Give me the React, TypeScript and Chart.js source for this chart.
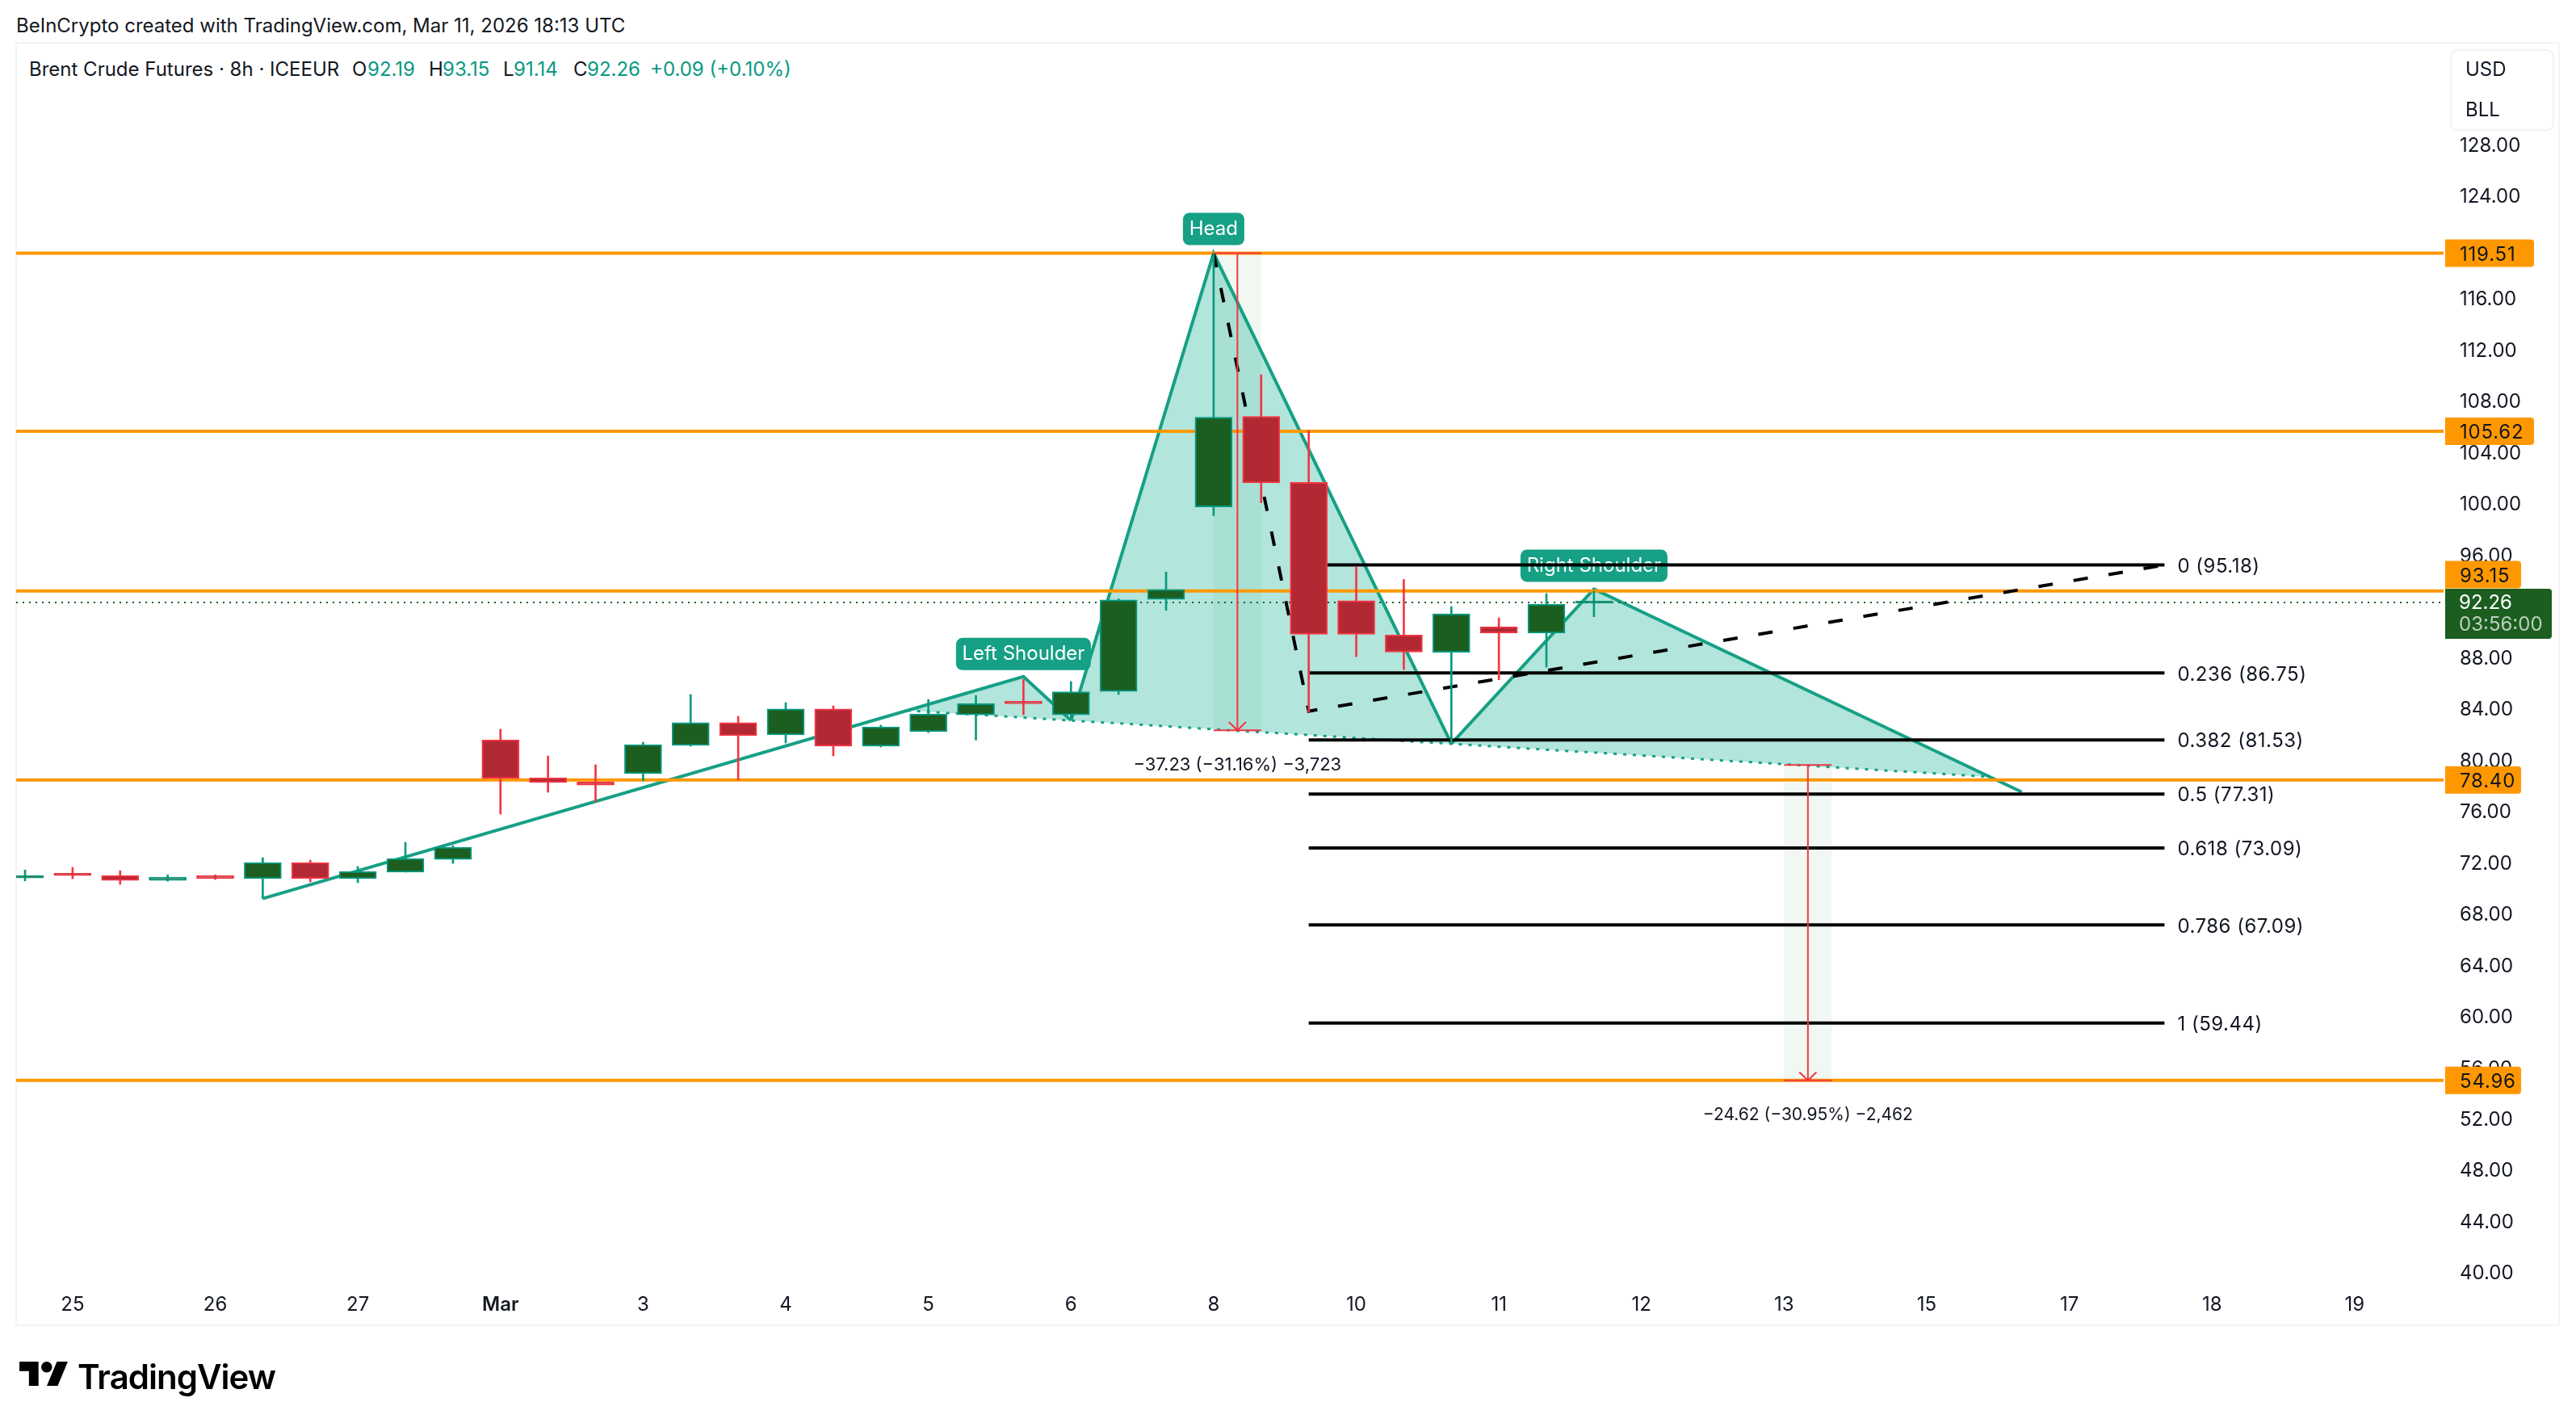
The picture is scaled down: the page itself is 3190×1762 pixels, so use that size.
import { Chart, registerables } from 'chart.js';
import { useEffect, useRef } from 'react';

Chart.register(...registerables);

const FONT = 'Inter, sans-serif';
const INK = '#131722';
const UP = '#089981';
const UP_BODY = '#1B5E20';
const DOWN = '#F23645';
const DOWN_BODY = '#B22833';
const TEAL = '#16A085';
const TEAL_FILL = 'rgba(20,175,150,0.33)';
const ORANGE = '#FF9800';

// 8h bars, index 0 is the one cut off by the left edge
const openPrices = [70.76, 71.08, 70.95, 70.57, 70.95, 70.7, 71.96, 70.7, 71.21, 72.21, 81.54, 78.58, 78.26, 78.9, 81.1, 82.87, 81.92, 83.94, 81.04, 82.17, 83.49, 84.4, 83.49, 85.31, 92.49, 99.72, 106.78, 101.63, 92.4, 89.71, 88.37, 90.36, 89.86, 92.19];
const highPrices = [71.38, 71.58, 71.33, 71.0, 71.0, 72.34, 72.15, 71.65, 73.54, 73.28, 82.36, 80.28, 79.59, 81.35, 85.07, 83.37, 84.44, 84.19, 82.68, 84.69, 85.0, 86.24, 86.09, 92.54, 94.63, 119.51, 110.03, 105.68, 95.07, 94.05, 91.94, 91.06, 92.95, 93.15];
const lowPrices = [70.53, 70.7, 70.26, 70.51, 70.64, 69.15, 70.45, 70.39, 71.21, 71.9, 75.74, 77.45, 76.69, 78.33, 81.04, 78.39, 81.29, 80.28, 80.97, 82.1, 81.52, 83.5, 83.3, 85.08, 91.65, 99.03, 100.04, 83.69, 88.03, 87.02, 81.23, 86.22, 87.21, 91.14];
const closePrices = [70.95, 70.95, 70.57, 70.82, 70.7, 71.96, 70.7, 71.27, 72.28, 73.16, 78.52, 78.2, 78.0, 81.16, 82.87, 81.86, 83.94, 81.04, 82.55, 83.56, 84.36, 84.35, 85.28, 92.46, 93.27, 106.72, 101.58, 89.77, 89.77, 88.38, 91.37, 89.86, 92.13, 92.26];

const dayLabels = ['25', '26', '27', 'Mar', '3', '4', '5', '6', '8', '10', '11', '12', '13', '15', '17', '18', '19'];
const priceTicks = [128, 124, 120, 116, 112, 108, 104, 100, 96, 92, 88, 84, 80, 76, 72, 68, 64, 60, 56, 52, 48, 44, 40];

const orangeLevels = [119.51, 105.62, 93.15, 78.4, 54.96];
const lastPrice = 92.26;

const fibRatios = ['0', '0.236', '0.382', '0.5', '0.618', '0.786', '1'];
const fibPrices = [95.18, 86.75, 81.53, 77.31, 73.09, 67.09, 59.44];
const fibStart = 27;
const fibEnd = 45;

// [bar index, price]
const leftRise = [[5, 69.15], [21, 86.47], [22, 83.05]];
const headPeak = [[22, 83.05], [25, 119.51], [30, 81.23]];
const rightFall = [[30, 81.23], [33, 93.3], [42, 77.46]];
const neckline = [[18.56, 83.83], [41.32, 78.65]];
const leftFill = [[18.56, 83.83], [21, 86.47], [22, 83.05]];
const rightFill = [[30, 81.23], [33, 93.3], [41.32, 78.65]];
const dashedPath = [[25, 119.51], [27, 83.77], [45, 95.18]];

const firstMeasure = { from: 25, to: 26, top: 119.51, bottom: 82.28, size: 22, text: '\u221237.23 (\u221231.16%) \u22123,723' };
const secondMeasure = { from: 37, to: 38, top: 79.58, bottom: 54.96, size: 21, text: '\u221224.62 (\u221230.95%) \u22122,462' };

const xMin = -0.187;
const xMax = 50.87;
const yMin = 39.067;
const yMax = 135.865;

const asPoints = (list: number[][]) => list.map(([x, y]) => ({ x, y }));

const line = (data: number[][], color: string, width: number, order: number, dash: number[] = []) => ({
  type: 'line' as const,
  data: asPoints(data),
  borderColor: color,
  borderWidth: width,
  borderDash: dash,
  pointRadius: 0,
  tension: 0,
  fill: false,
  order,
});

const shape = (data: number[][], color: string, order: number) => ({
  type: 'line' as const,
  data: asPoints(data),
  borderWidth: 0,
  backgroundColor: color,
  pointRadius: 0,
  tension: 0,
  fill: 'shape',
  order,
});

const measureDatasets = (m: typeof firstMeasure) => {
  const mid = (m.from + m.to) / 2;
  return [
    shape([[m.from, m.top], [m.to, m.top], [m.to, m.bottom], [m.from, m.bottom]], '#F1F8F2', 9),
    line([[m.from, m.top], [m.to, m.top]], DOWN, 2, 3),
    line([[m.from, m.bottom], [m.to, m.bottom]], DOWN, 2, 3),
    line([[mid, m.top], [mid, m.bottom]], DOWN, 2, 3),
    line([[mid - 0.18, m.bottom + 0.65], [mid, m.bottom], [mid + 0.18, m.bottom + 0.65]], DOWN, 2, 3),
  ];
};

const barIndexes = openPrices.map((_, i) => i);

const overlayPlugin = {
  id: 'overlay',
  beforeDatasetsDraw(chart: any) {
    const { ctx, scales } = chart;
    const tag = (text: string, index: number, price: number, width: number, top: number) => {
      const cx = scales.x.getPixelForValue(index);
      const y = scales.y.getPixelForValue(price) + top;
      ctx.save();
      ctx.fillStyle = TEAL;
      ctx.beginPath();
      ctx.roundRect(cx - width / 2, y, width, 40, 8);
      ctx.fill();
      ctx.fillStyle = '#FFFFFF';
      ctx.font = `24px ${FONT}`;
      ctx.textAlign = 'center';
      ctx.textBaseline = 'middle';
      ctx.fillText(text, cx, y + 20);
      ctx.restore();
    };
    tag('Left Shoulder', 21, 86.47, 167, -48);
    tag('Head', 25, 119.51, 76, -50);
    tag('Right Shoulder', 33, 93.3, 182, -49);
  },
  afterDatasetsDraw(chart: any) {
    const { ctx, scales } = chart;
    ctx.save();
    ctx.fillStyle = INK;
    ctx.textBaseline = 'middle';
    ctx.font = `24px ${FONT}`;
    ctx.textAlign = 'left';
    ctx.letterSpacing = '0.5px';
    const labelX = scales.x.getPixelForValue(fibEnd) + 16;
    fibPrices.forEach((price, i) => {
      ctx.fillText(`${fibRatios[i]} (${price.toFixed(2)})`, labelX, scales.y.getPixelForValue(price) + 2);
    });
    ctx.letterSpacing = '0px';
    ctx.textAlign = 'center';
    [firstMeasure, secondMeasure].forEach((m) => {
      ctx.font = `${m.size}px ${FONT}`;
      const cx = scales.x.getPixelForValue((m.from + m.to) / 2);
      ctx.fillText(m.text, cx, scales.y.getPixelForValue(m.bottom) + 43);
    });
    ctx.restore();
  },
  afterDraw(chart: any) {
    const { ctx, scales } = chart;
    const badgeX = chart.chartArea.right + 2;
    ctx.save();
    ctx.textBaseline = 'middle';
    ctx.font = `24px ${FONT}`;
    ctx.textAlign = 'left';
    ctx.letterSpacing = '0.8px';
    orangeLevels.forEach((level) => {
      // the 93.15 tag gets pushed up by the last price tag
      const y = scales.y.getPixelForValue(level) - (level === 93.15 ? 20.3 : 0);
      const width = level >= 100 ? 110 : 94;
      ctx.fillStyle = ORANGE;
      ctx.beginPath();
      ctx.roundRect(badgeX, y - 17, width, 34, [0, 4, 4, 0]);
      ctx.fill();
      ctx.fillStyle = INK;
      ctx.fillText(level.toFixed(2), badgeX + 18, y + 2);
    });
    ctx.letterSpacing = '0px';
    const lastY = scales.y.getPixelForValue(lastPrice);
    ctx.fillStyle = UP_BODY;
    ctx.beginPath();
    ctx.roundRect(badgeX, lastY - 17, 132, 62, [0, 4, 4, 0]);
    ctx.fill();
    ctx.fillStyle = '#FFFFFF';
    ctx.fillText(lastPrice.toFixed(2), badgeX + 17, lastY + 1);
    ctx.fillStyle = 'rgba(255,255,255,0.7)';
    ctx.fillText('03:56:00', badgeX + 17, lastY + 28);

    ctx.fillStyle = '#FFFFFF';
    ctx.strokeStyle = '#F0F3FA';
    ctx.lineWidth = 2;
    ctx.beginPath();
    ctx.roundRect(3035, 62, 127, 99, 8);
    ctx.fill();
    ctx.stroke();
    ctx.fillStyle = INK;
    ctx.fillText('USD', 3053, 87);
    ctx.fillText('BLL', 3053, 137);
    ctx.restore();
  },
};

const legendParts = [
  { left: 36, text: 'Brent Crude Futures \u00b7 8h \u00b7 ICEEUR', color: INK },
  { left: 436, text: 'O', color: INK },
  { left: 455, text: '92.19', color: UP },
  { left: 531, text: 'H', color: INK },
  { left: 548, text: '93.15', color: UP },
  { left: 623, text: 'L', color: INK },
  { left: 636, text: '91.14', color: UP },
  { left: 710, text: 'C', color: INK },
  { left: 727, text: '92.26', color: UP },
  { left: 805, text: '+0.09 (+0.10%)', color: UP },
];

export default function App() {
  const canvasRef = useRef<HTMLCanvasElement | null>(null);

  useEffect(() => {
    if (!canvasRef.current) return;

    const chart = new Chart(canvasRef.current, {
      type: 'bar',
      data: {
        datasets: [
          {
            data: barIndexes.map((i) => ({ x: i, y: [openPrices[i], closePrices[i]] })),
            backgroundColor: barIndexes.map((i) => (closePrices[i] >= openPrices[i] ? UP_BODY : DOWN_BODY)),
            borderColor: barIndexes.map((i) => (closePrices[i] >= openPrices[i] ? UP : DOWN)),
            borderWidth: 2,
            borderSkipped: false,
            barThickness: 46,
            minBarLength: 3,
            grouped: false,
            order: 1,
          },
          {
            data: barIndexes.map((i) => ({ x: i, y: [lowPrices[i], highPrices[i]] })),
            backgroundColor: barIndexes.map((i) => (closePrices[i] >= openPrices[i] ? UP : DOWN)),
            borderWidth: 0,
            barThickness: 2,
            grouped: false,
            order: 2,
          },
          ...fibPrices.map((price) => line([[fibStart, price], [fibEnd, price]], '#000000', 4, 4)),
          line(dashedPath, '#000000', 4, 4, [18, 26]),
          ...orangeLevels.map((level) => line([[xMin, level], [xMax, level]], ORANGE, 4, 5)),
          line([[xMin, lastPrice], [xMax, lastPrice]], UP_BODY, 2, 6, [2, 6]),
          line(leftRise, TEAL, 4, 6),
          line(headPeak, TEAL, 4, 6),
          line(rightFall, TEAL, 4, 6),
          line(neckline, TEAL, 3, 6, [4, 8]),
          shape(leftFill, TEAL_FILL, 8),
          shape(headPeak, TEAL_FILL, 8),
          shape(rightFill, TEAL_FILL, 8),
          ...measureDatasets(firstMeasure),
          ...measureDatasets(secondMeasure),
        ] as any,
      },
      options: {
        animation: false,
        responsive: false,
        devicePixelRatio: 1,
        layout: { padding: { left: 20, top: 54, right: 20, bottom: 121 } },
        plugins: { legend: { display: false }, tooltip: { enabled: false } },
        scales: {
          x: {
            type: 'linear',
            offset: false,
            min: xMin,
            max: xMax,
            grid: { display: false, drawTicks: false },
            border: { display: false },
            afterFit: (axis: any) => { axis.height = 51; },
            afterBuildTicks: (axis: any) => { axis.ticks = dayLabels.map((_, k) => ({ value: 1 + 3 * k })); },
            ticks: {
              autoSkip: false,
              maxRotation: 0,
              padding: 11,
              color: INK,
              font: (ctx: any) => ({
                family: FONT,
                size: 24,
                weight: ctx.tick && dayLabels[(ctx.tick.value - 1) / 3] === 'Mar' ? 600 : 400,
              }),
              callback: (value: any) => dayLabels[(value - 1) / 3],
            },
          },
          y: {
            type: 'linear',
            position: 'right',
            min: yMin,
            max: yMax,
            beginAtZero: false,
            grid: { display: false, drawTicks: false },
            border: { display: false },
            afterFit: (axis: any) => { axis.width = 144; },
            afterBuildTicks: (axis: any) => { axis.ticks = priceTicks.map((value) => ({ value })); },
            ticks: {
              autoSkip: false,
              crossAlign: 'near',
              padding: 20,
              labelOffset: 2,
              color: INK,
              font: { family: FONT, size: 24 },
              callback: (value: any) => Number(value).toFixed(2),
            },
          },
        },
      },
      plugins: [overlayPlugin],
    } as any);

    return () => chart.destroy();
  }, []);

  return (
    <div style={{ position: 'absolute', left: 0, top: 0, width: 3190, height: 1762, overflow: 'hidden', background: '#FFFFFF', fontFamily: FONT, color: INK }}>
      <div style={{ position: 'absolute', left: 20, top: 18, fontSize: 24, lineHeight: '28px', whiteSpace: 'pre' }}>
        BeInCrypto created with TradingView.com, Mar 11, 2026 18:13 UTC
      </div>
      <div style={{ position: 'absolute', left: 19, top: 52, width: 3151, height: 1590, boxSizing: 'border-box', border: '2px solid #F2F3F5' }} />
      {legendParts.map((part) => (
        <div key={part.left} style={{ position: 'absolute', left: part.left, top: 72, fontSize: 24, lineHeight: '28px', whiteSpace: 'pre', color: part.color }}>
          {part.text}
        </div>
      ))}
      <canvas ref={canvasRef} width={3190} height={1762} style={{ position: 'absolute', left: 0, top: 0 }} />
      <svg viewBox="0 4 35.5 18" width={60} height={30.4} style={{ position: 'absolute', left: 24, top: 1686 }}>
        <path d="M14 22H7V11H0V4h14v18zM28 22h-8l7.5-18h8L28 22z" fill="#000000" />
        <circle cx={20} cy={8} r={4} fill="#000000" />
      </svg>
      <div style={{ position: 'absolute', left: 96, top: 1678, fontSize: 42, fontWeight: 600, lineHeight: '54px', letterSpacing: -1, color: '#000000' }}>
        TradingView
      </div>
    </div>
  );
}
